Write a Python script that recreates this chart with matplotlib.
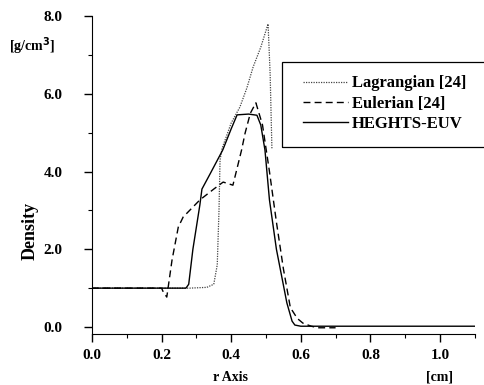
import matplotlib.pyplot as plt
from matplotlib.patches import Rectangle
from matplotlib.ticker import MultipleLocator

# Density profiles
lag_r = [0.0, 0.20, 0.28, 0.33, 0.35, 0.36, 0.365, 0.368, 0.374, 0.40, 0.425,
         0.445, 0.463, 0.485, 0.506, 0.512, 0.517]
lag_rho = [1.0, 1.0, 1.0, 1.02, 1.1, 1.6, 3.0, 4.3, 4.6, 5.25, 5.66,
           6.15, 6.69, 7.2, 7.8, 6.5, 4.6]

eul_r = [0.0, 0.20, 0.205, 0.215, 0.23, 0.248, 0.262, 0.31, 0.35, 0.377, 0.405,
         0.43, 0.44, 0.455, 0.471, 0.49, 0.51, 0.53, 0.55, 0.57, 0.59, 0.606,
         0.63, 0.65, 0.70]
eul_rho = [1.0, 1.0, 0.9, 0.77, 1.72, 2.57, 2.83, 3.27, 3.55, 3.73, 3.65,
           4.56, 4.99, 5.5, 5.77, 5.2, 4.0, 2.7, 1.5, 0.5, 0.22, 0.1,
           0.02, -0.02, -0.02]

heg_r = [0.0, 0.27, 0.278, 0.29, 0.31, 0.316, 0.34, 0.376, 0.40, 0.417, 0.45,
         0.474, 0.485, 0.497, 0.51, 0.53, 0.56, 0.575, 0.583, 0.60, 1.10]
heg_rho = [1.0, 1.0, 1.1, 2.0, 3.14, 3.55, 3.95, 4.56, 5.1, 5.46, 5.48,
           5.45, 5.2, 4.56, 3.27, 2.0, 0.62, 0.15, 0.05, 0.02, 0.02]

labels = ['Lagrangian [24]', 'Eulerian [24]', 'HEGHTS-EUV']

serif = ['Liberation Serif', 'DejaVu Serif']
plt.rcParams['font.family'] = serif
plt.rcParams['font.weight'] = 'bold'

fig = plt.figure(figsize=(4.84, 3.85), dpi=100)
ax = fig.add_axes([0.19, 0.1325, 0.791, 0.8255])

ax.plot(lag_r, lag_rho, color='#444444', linestyle=(0, (1, 1)), linewidth=0.9, label=labels[0])
ax.plot(eul_r, eul_rho, color='black', linestyle=(0, (5, 3)), linewidth=1.0, label=labels[1])
ax.plot(heg_r, heg_rho, color='black', linestyle='-', linewidth=1.0, label=labels[2])

ax.set_xlim(0.0, 1.10)
ax.set_ylim(-0.18, 8.0)
ax.spines['top'].set_visible(False)
ax.spines['right'].set_visible(False)
ax.xaxis.set_major_locator(MultipleLocator(0.2))
ax.xaxis.set_minor_locator(MultipleLocator(0.1))
ax.yaxis.set_major_locator(MultipleLocator(2.0))
ax.yaxis.set_minor_locator(MultipleLocator(1.0))
ax.xaxis.set_major_formatter(plt.FuncFormatter(lambda v, p: f'{v:.1f}'))
ax.yaxis.set_major_formatter(plt.FuncFormatter(lambda v, p: f'{v:.1f}'))
ax.tick_params(which='major', direction='out', length=6, width=1, labelsize=11)
ax.tick_params(which='minor', direction='out', length=3, width=0.8)
ax.tick_params(axis='x', which='major', pad=5)
ax.tick_params(axis='y', which='major', pad=15)

fig.text(0.062, 0.40, 'Density', rotation=90, ha='center', va='center',
         fontsize=13, fontweight='bold')
fig.text(0.018, 0.88, '[g/cm$^\\mathbf{3}$]', ha='left', va='center', fontsize=10,
         fontweight='bold')
fig.text(0.477, 0.02, 'r Axis', ha='center', va='center', fontsize=10, fontweight='bold')
fig.text(0.909, 0.02, '[cm]', ha='center', va='center', fontsize=10, fontweight='bold')

leg = ax.legend(loc='upper left', bbox_to_anchor=(0.596, 0.843), bbox_transform=fig.transFigure,
                frameon=False, handlelength=2.7, handletextpad=0.2,
                labelspacing=0.25, prop={'weight': 'bold', 'size': 12, 'family': serif})
fig.patches.append(Rectangle((0.583, 0.618), 0.45, 0.221, transform=fig.transFigure,
                             fill=False, edgecolor='black', linewidth=0.9, clip_on=False))

fig.savefig('out.png', dpi=100)
